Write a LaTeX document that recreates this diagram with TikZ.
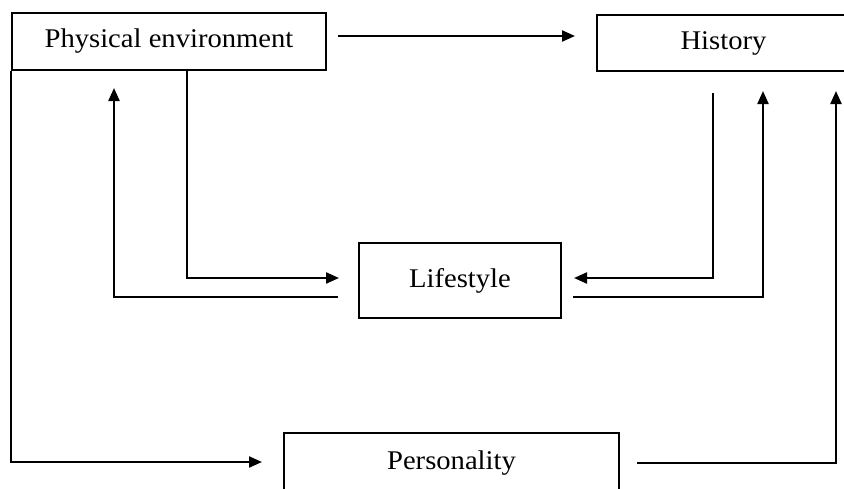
\documentclass[tikz,border=0pt]{standalone}
\usepackage{fontspec}
\setmainfont{Liberation Serif}[FakeStretch=1.06]
\usetikzlibrary{arrows.meta}
\begin{document}
\begin{tikzpicture}[x=1pt,y=-1pt,
  box/.style={draw,line width=2pt,inner sep=0pt,font=\fontsize{27}{32}\selectfont},
  conn/.style={line width=2.2pt},
  arr/.style={conn,-{Triangle[length=13pt,width=11pt]}}]
\useasboundingbox[fill=white] (0,0) rectangle (844,488);
% boxes
\node[box,minimum width=314pt,minimum height=57pt] (pe) at (169,41.5) {Physical environment};
\node[box,minimum width=253pt,minimum height=56pt] (hist) at (723.5,43) {History};
\node[box,minimum width=202pt,minimum height=75pt] (life) at (460,280.5) {Lifestyle};
\node[box,minimum width=335pt,minimum height=60pt] (pers) at (451.5,463) {Personality};
% connector end points
\coordinate (peR) at (338,36);
\coordinate (hiL) at (575,36);
\coordinate (peB) at (187,70);
\coordinate (liInL) at (339,278);
\coordinate (liOutL) at (338,297);
\coordinate (peUp) at (114,88);
\coordinate (hiB) at (713,93);
\coordinate (liInR) at (574,278);
\coordinate (liOutR) at (573,297);
\coordinate (hiUp1) at (763,91);
\coordinate (peOut) at (637,463);
\coordinate (hiUp2) at (836,91);
\coordinate (paIn) at (262,462);
% connectors
\draw[arr] (peR) -- (hiL);
\draw[arr] (peB) |- (liInL);
\draw[arr] (liOutL) -| (peUp);
\draw[arr] (hiB) |- (liInR);
\draw[arr] (liOutR) -| (hiUp1);
\draw[arr] (peOut) -| (hiUp2);
\draw[arr] (pe.south west) |- (paIn);
\end{tikzpicture}
\end{document}
